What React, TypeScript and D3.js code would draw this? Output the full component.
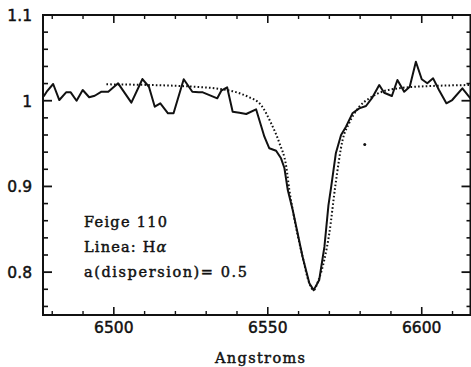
import React from "react";
import * as d3 from "d3";

// Observed spectrum (solid)
const wavelength = [
  6477.2, 6478.2, 6480.3, 6482.3, 6484.5, 6486.0, 6487.9, 6489.9, 6492.0, 6493.8, 6496.0,
  6498.2, 6501.4, 6505.7, 6509.3, 6511.4, 6513.3, 6515.1, 6517.6, 6519.4, 6522.7,
  6525.5, 6527.6, 6528.9, 6533.6, 6534.9, 6536.8, 6538.6, 6540.8, 6543.0, 6546.2,
  6548.9, 6550.5, 6552.7, 6554.3, 6555.4, 6556.5, 6558.1, 6561.3, 6563.5, 6564.9,
  6566.7, 6568.4, 6569.7, 6570.6, 6572.1, 6573.8, 6575.4, 6577.5, 6579.7, 6581.9,
  6584.0, 6586.2, 6587.8, 6590.3, 6592.1, 6594.3, 6596.1, 6598.1, 6600.0, 6601.8,
  6603.7, 6605.6, 6608.0, 6609.9, 6613.2, 6616.0,
];
const flux = [
  1.005, 1.0105, 1.0195, 1.0008, 1.0098, 1.0098, 1.0, 1.0125, 1.004, 1.0058, 1.0105,
  1.0105, 1.0203, 0.9977, 1.0253, 1.0163, 0.993, 0.997, 0.9853, 0.9853, 1.025,
  1.0105, 1.0098, 1.0098, 1.0028, 1.0117, 1.0156, 0.9872, 0.986, 0.9845, 0.99,
  0.958, 0.9445, 0.9417, 0.9328, 0.9215, 0.8958, 0.8725, 0.818, 0.787, 0.779,
  0.7908, 0.8297, 0.878, 0.8997, 0.9386, 0.96, 0.9697, 0.9853, 0.9911, 0.9938,
  1.004, 1.0183, 1.0093, 1.0055, 1.0242, 1.0105, 1.0163, 1.0455, 1.025, 1.0203,
  1.0261, 1.0125, 0.997, 1.0008, 1.0145, 1.002,
];

// Model profile (dotted)
const modelWavelength = [
  6497.6, 6510.0, 6526.2, 6532.7, 6539.2, 6543.5, 6547.8, 6551.1, 6553.8, 6556.0,
  6557.0, 6558.1, 6561.3, 6563.5, 6564.9, 6566.4, 6568.4, 6570.0, 6571.9, 6574.3,
  6576.4, 6579.7, 6583.0, 6587.2, 6592.6, 6598.1, 6616.0,
];
const modelFlux = [
  1.0191, 1.0185, 1.0163, 1.0145, 1.0105, 1.0047, 0.995, 0.9736, 0.9503, 0.923,
  0.8958, 0.8725, 0.818, 0.787, 0.779, 0.79, 0.815, 0.8457, 0.8997, 0.9542,
  0.9736, 0.993, 1.0028, 1.0105, 1.0145, 1.0163, 1.0183,
];

// Scan speck
const speckWavelength = [6581.5];
const speckFlux = [0.949];

const yMajor = [0.8, 0.9, 1.0, 1.1];
const yLabels = ["0.8", "0.9", "1", "1.1"];
const xMajor = [6500, 6550, 6600];
const xLabels = ["6500", "6550", "6600"];

const W = 471;
const H = 367;
const left = 43;
const right = 470.5;
const top = 15;
const bottom = 315;

export default function App() {
  const x = d3.scaleLinear().domain([6477, 6616]).range([left, 471]);
  const y = d3.scaleLinear().domain([0.75, 1.1]).range([bottom, top]);

  const yMinor = d3.range(0.76, 1.09, 0.02).filter(
    (v) => !yMajor.some((m) => Math.abs(m - v) < 1e-6)
  );
  const xMinor = d3.range(6480, 6616, 10).filter((v) => !xMajor.includes(v));

  const line = d3
    .line<number>()
    .x((_, i) => x(wavelength[i]))
    .y((d) => y(d))
    .curve(d3.curveLinear);
  const modelLine = d3
    .line<number>()
    .x((_, i) => x(modelWavelength[i]))
    .y((d) => y(d))
    .curve(d3.curveMonotoneX);

  const ink = "#111";
  const numFont = "'DejaVu Sans', sans-serif";
  const txtFont = "'DejaVu Serif', serif";
  const heavy = { stroke: ink, strokeWidth: 0.45 };

  return (
    <svg
      width={W}
      height={H}
      style={{ position: "absolute", left: 0, top: 0, background: "#fff" }}
    >
      <defs>
        <clipPath id="plot">
          <rect x={left} y={top} width={right - left} height={bottom - top} />
        </clipPath>
      </defs>
      <rect x={0} y={0} width={W} height={H} fill="#fff" />

      {/* frame */}
      <rect
        x={left}
        y={top}
        width={right - left}
        height={bottom - top}
        fill="none"
        stroke={ink}
        strokeWidth={2}
      />

      {/* y ticks left & right */}
      {yMajor.map((v) => (
        <g key={"ym" + v}>
          <line x1={left} x2={left + 9} y1={y(v)} y2={y(v)} stroke={ink} strokeWidth={1.8} />
          <line x1={right} x2={right - 9} y1={y(v)} y2={y(v)} stroke={ink} strokeWidth={1.8} />
        </g>
      ))}
      {yMinor.map((v) => (
        <g key={"yn" + v}>
          <line x1={left} x2={left + 5} y1={y(v)} y2={y(v)} stroke={ink} strokeWidth={1.6} />
          <line x1={right} x2={right - 4} y1={y(v)} y2={y(v)} stroke={ink} strokeWidth={1.6} />
        </g>
      ))}

      {/* x ticks bottom & top */}
      {xMajor.map((v) => (
        <g key={"xm" + v}>
          <line x1={x(v)} x2={x(v)} y1={bottom} y2={bottom - 8} stroke={ink} strokeWidth={1.6} />
          <line x1={x(v)} x2={x(v)} y1={top} y2={top + 8} stroke={ink} strokeWidth={1.6} />
        </g>
      ))}
      {xMinor.map((v) => (
        <g key={"xn" + v}>
          <line x1={x(v)} x2={x(v)} y1={bottom} y2={bottom - 4} stroke={ink} strokeWidth={1.4} />
          <line x1={x(v)} x2={x(v)} y1={top} y2={top + 4} stroke={ink} strokeWidth={1.4} />
        </g>
      ))}

      {/* y labels */}
      {yMajor.map((v, i) => (
        <text
          key={"yl" + v}
          x={32}
          y={y(v) + 6}
          textAnchor="end"
          fontFamily={numFont}
          fontSize={15.5}
          fill={ink}
          {...heavy}
        >
          {yLabels[i]}
        </text>
      ))}

      {/* x labels */}
      {xMajor.map((v, i) => (
        <text
          key={"xl" + v}
          x={x(v)}
          y={333}
          textAnchor="middle"
          fontFamily={numFont}
          fontSize={15.5}
          fill={ink}
          {...heavy}
        >
          {xLabels[i]}
        </text>
      ))}

      <text
        x={260}
        y={363}
        textAnchor="middle"
        fontFamily={txtFont}
        fontSize={14.5}
        textLength={90}
        lengthAdjust="spacing"
        fill={ink}
        {...heavy}
      >
        Angstroms
      </text>

      {/* annotations */}
      <text x={84} y={227} fontFamily={txtFont} fontSize={14.5} textLength={83} lengthAdjust="spacing" fill={ink} {...heavy}>
        Feige 110
      </text>
      <text x={84} y={252} fontFamily={txtFont} fontSize={14.5} fill={ink} letterSpacing={1.2} {...heavy}>
        Linea: H<tspan fontStyle="italic">α</tspan>
      </text>
      <text x={84} y={277} fontFamily={txtFont} fontSize={14.5} textLength={163} lengthAdjust="spacing" fill={ink} {...heavy}>
        a(dispersion)= 0.5
      </text>

      <g clipPath="url(#plot)">
        <path
          d={modelLine(modelFlux) || ""}
          fill="none"
          stroke={ink}
          strokeWidth={2}
          strokeDasharray="1.6 2.2"
        />
        <path
          d={line(flux) || ""}
          fill="none"
          stroke={ink}
          strokeWidth={2}
          strokeLinejoin="round"
        />
        {speckWavelength.map((w, i) => (
          <circle key={"s" + i} cx={x(w)} cy={y(speckFlux[i])} r={1.5} fill={ink} />
        ))}
      </g>
    </svg>
  );
}
